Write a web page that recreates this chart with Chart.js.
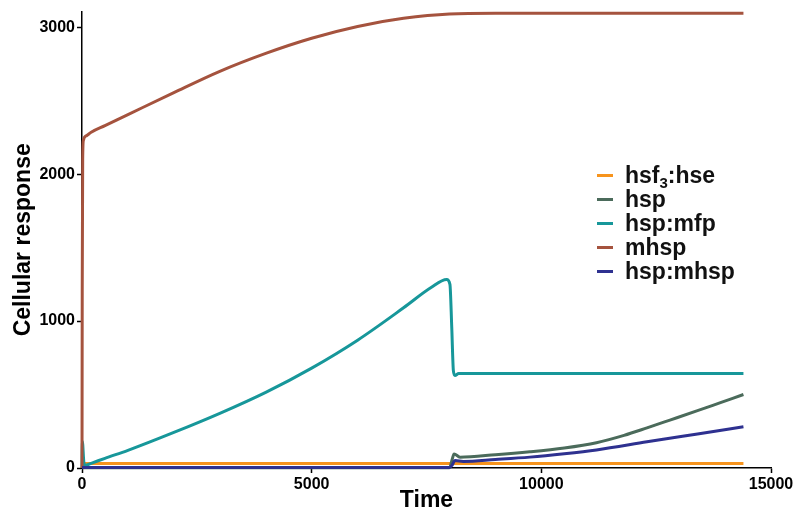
<!DOCTYPE html>
<html lang="en">
<head>
    <meta charset="UTF-8">
    <title>Cellular response</title>
    <script src="https://cdn.jsdelivr.net/npm/chart.js"></script>
    <style>
        body { margin: 0; background: #fff; }
        .wrap { position: relative; width: 796px; height: 514px; }
        .legend {
            position: absolute; left: 597px; top: 163px;
            font-family: "Liberation Sans", Arial, sans-serif;
            font-weight: bold; font-size: 23px; color: #111;
        }
        .legend .row { height: 24px; display: flex; align-items: center; }
        .legend .sw { width: 16px; height: 3px; margin-right: 12px; flex: none; }
        .legend sub { font-size: 15px; line-height: 0; vertical-align: -5px; }
    </style>
</head>
<body>
<div class="wrap">
    <canvas id="chart"></canvas>
    <!-- legend sits inside the plot, right side -->
    <div class="legend">
        <div class="row"><span class="sw" style="background:#F7941D"></span><span>hsf<sub>3</sub>:hse</span></div>
        <div class="row"><span class="sw" style="background:#4B6B5B"></span><span>hsp</span></div>
        <div class="row"><span class="sw" style="background:#17979A"></span><span>hsp:mfp</span></div>
        <div class="row"><span class="sw" style="background:#A5533E"></span><span>mhsp</span></div>
        <div class="row"><span class="sw" style="background:#2E3190"></span><span>hsp:mhsp</span></div>
    </div>
</div>

<script>
    // values
    const xTicks = [0, 5000, 10000, 15000];
    const yTicks = [0, 1000, 2000, 3000];

    const hseTime = [0, 30, 60, 14400];
    const hseVals = [0, 25, 30, 30];

    const hspTime = [0, 8000, 8060, 8100, 8230, 9000, 9750, 10500, 11200, 11800, 12300, 12800, 13400, 13900, 14400];
    const hspVals = [2, 2, 60, 96, 74, 90, 110, 136, 172, 222, 273, 326, 390, 445, 500];

    const mfpTime = [0, 8, 40, 70, 200, 500, 1000, 2000, 3000, 4000, 5000, 6000, 7000, 7600, 7940, 8010, 8050, 8085, 8120, 8200, 14400];
    const mfpVals = [0, 180, 40, 18, 32, 66, 120, 242, 372, 515, 680, 870, 1090, 1228, 1282, 1250, 955, 663, 630, 643, 643];

    const mhspTime = [0, 5, 15, 30, 100, 200, 500, 1000, 2000, 3000, 4000, 5000, 6000, 7000, 8000, 9000, 14400];
    const mhspVals = [0, 1200, 2100, 2230, 2262, 2285, 2330, 2405, 2555, 2700, 2822, 2925, 3005, 3060, 3090, 3095, 3095];

    const hspMhspTime = [0, 8000, 8060, 8120, 8300, 9000, 9750, 10500, 11200, 12300, 13400, 14400];
    const hspMhspVals = [3, 3, 20, 51, 45, 58, 74, 97, 123, 178, 232, 281];

    const pts = (t, v) => t.map((x, i) => ({ x: x, y: v[i] }));
    const FONT = '"Liberation Sans", Arial, sans-serif';

    function series(label, t, v, color, order) {
        return {
            label: label,
            data: pts(t, v),
            borderColor: color,
            backgroundColor: color,
            borderWidth: 3,
            pointRadius: 0,
            cubicInterpolationMode: 'monotone',
            clip: 4,
            order: order
        };
    }

    new Chart(document.getElementById('chart'), {
        type: 'line',
        data: {
            datasets: [
                series('hsf3:hse', hseTime, hseVals, '#F7941D', 5),
                series('hsp', hspTime, hspVals, '#4B6B5B', 4),
                series('hsp:mfp', mfpTime, mfpVals, '#17979A', 3),
                series('mhsp', mhspTime, mhspVals, '#A5533E', 2),
                series('hsp:mhsp', hspMhspTime, hspMhspVals, '#2E3190', 1)
            ]
        },
        options: {
            responsive: true,
            maintainAspectRatio: false,
            animation: false,
            layout: { padding: { top: 8, right: 25, left: 0, bottom: 0 } },
            plugins: { legend: { display: false }, tooltip: { enabled: false } },
            scales: {
                x: {
                    type: 'linear',
                    min: 0,
                    max: 15000,
                    afterBuildTicks: s => { s.ticks = xTicks.map(v => ({ value: v })); },
                    afterFit: s => { s.height = 46; },
                    border: { display: true, color: '#000', width: 1.5 },
                    grid: { drawOnChartArea: false, drawTicks: true, tickLength: 5, color: '#000', tickWidth: 1.5 },
                    ticks: {
                        color: '#000', padding: 2, maxRotation: 0,
                        font: { family: FONT, size: 16, weight: 'bold' },
                        callback: v => String(v)
                    },
                    title: {
                        display: true, text: 'Time', color: '#000',
                        font: { family: FONT, size: 23, weight: 'bold' },
                        padding: { top: 0, bottom: 0 }
                    }
                },
                y: {
                    min: 0,
                    max: 3106,
                    afterBuildTicks: s => { s.ticks = yTicks.map(v => ({ value: v })); },
                    afterFit: s => { s.width = 82; },
                    border: { display: true, color: '#000', width: 1.5 },
                    grid: { drawOnChartArea: false, drawTicks: true, tickLength: 5, color: '#000', tickWidth: 1.5 },
                    ticks: {
                        color: '#000', padding: 2,
                        font: { family: FONT, size: 16, weight: 'bold' },
                        callback: v => String(v)
                    },
                    title: {
                        display: true, text: 'Cellular response', color: '#000',
                        font: { family: FONT, size: 23, weight: 'bold' },
                        padding: { top: 10, bottom: 0 }
                    }
                }
            }
        }
    });
</script>
</body>
</html>
